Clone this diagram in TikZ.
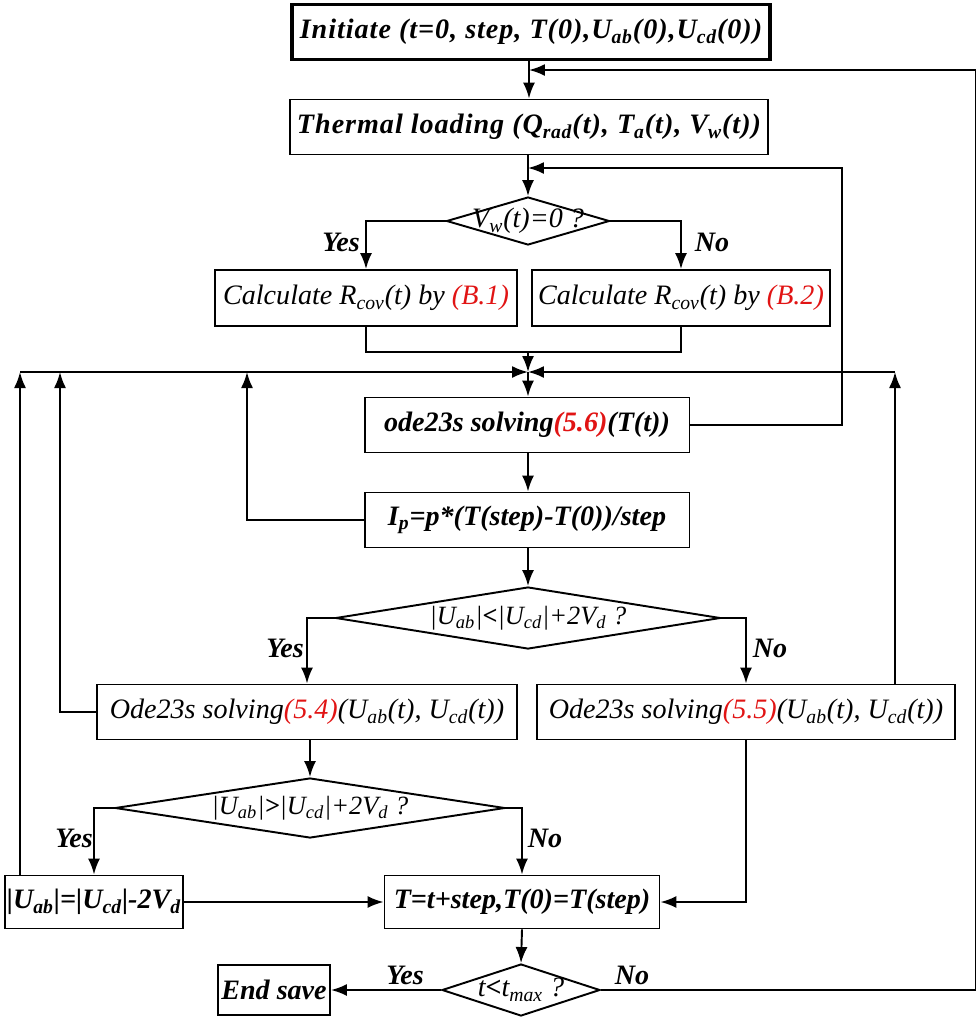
\documentclass[tikz,border=0pt]{standalone}
\usepackage{fontspec}
\setmainfont{Liberation Serif}
\usepackage{xcolor}
\usetikzlibrary{shapes.geometric, arrows.meta}

\definecolor{eqred}{RGB}{225,20,20}
\newcommand{\lo}[1]{\textsubscript{#1}}
\newcommand{\eqnum}[1]{\textcolor{eqred}{(#1)}}

\begin{document}
\begin{tikzpicture}[
    x=0.02cm, y=-0.02cm,
    every node/.style={font=\fontsize{16}{18}\selectfont\bfseries\itshape},
    light/.style={font=\fontsize{16}{18}\selectfont\itshape},
    cond/.style={font=\fontsize{15}{17}\selectfont\itshape},
    wide/.style={font=\fontsize{16}{18}\selectfont\bfseries\itshape\addfontfeature{LetterSpace=3.5}},
    box/.style={draw, line width=1.1pt, inner sep=0pt},
    test/.style={draw, diamond, line width=1.1pt, inner sep=0pt},
    arr/.style={line width=1.1pt, -{Latex[length=3.2mm,width=2.4mm]}},
    link/.style={line width=1.1pt}
]
\useasboundingbox (0,0) rectangle (976,1019);

% process boxes
\node[box, wide, line width=2pt, minimum width=9.56cm, minimum height=1.1cm] (init) at (531,32)
    {Initiate (t=0, step, T(0),U\lo{ab}(0),U\lo{cd}(0))};
\node[box, wide, minimum width=9.56cm, minimum height=1.1cm] (therm) at (529,127)
    {Thermal loading (Q\lo{rad}(t), T\lo{a}(t), V\lo{w}(t))};
\node[box, light, minimum width=6.04cm, minimum height=1.12cm] (calcA) at (366,298)
    {Calculate R\lo{cov}(t) by \eqnum{B.1}};
\node[box, light, minimum width=5.96cm, minimum height=1.12cm] (calcB) at (681,298)
    {Calculate R\lo{cov}(t) by \eqnum{B.2}};
\node[box, minimum width=6.5cm, minimum height=1.1cm] (ode) at (527,425)
    {ode23s solving\eqnum{5.6}(T(t))};
\node[box, minimum width=6.5cm, minimum height=1.1cm] (ip) at (527,520)
    {I\lo{p}=p*(T(step)-T(0))/step};
\node[box, light, minimum width=8.4cm, minimum height=1.1cm] (odeA) at (307,712)
    {Ode23s solving\eqnum{5.4}(U\lo{ab}(t), U\lo{cd}(t))};
\node[box, light, minimum width=8.38cm, minimum height=1.1cm] (odeB) at (746,712)
    {Ode23s solving\eqnum{5.5}(U\lo{ab}(t), U\lo{cd}(t))};
\node[box, minimum width=3.56cm, minimum height=1.06cm] (clip) at (94,902)
    {|U\lo{ab}|=|U\lo{cd}|-2V\lo{d}};
\node[box, minimum width=5.5cm, minimum height=1.06cm] (tnext) at (522,902)
    {T=t+step,T(0)=T(step)};
\node[box, minimum width=2.24cm, minimum height=1cm] (endS) at (274,990)
    {End save};

% decisions
\node[test, minimum width=3.26cm, minimum height=0.96cm,
    label={[light]center:V\lo{w}(t)=0 ?}] (dW) at (528,221) {};
\node[test, minimum width=7.7cm, minimum height=1.24cm,
    label={[cond]center:|U\lo{ab}|\textbf{<}|U\lo{cd}|+2V\lo{d} ?}] (dU) at (528,618) {};
\node[test, minimum width=7.8cm, minimum height=1.2cm,
    label={[cond]center:|U\lo{ab}|\textbf{>}|U\lo{cd}|+2V\lo{d} ?}] (dV) at (310,808) {};
\node[test, minimum width=3.16cm, minimum height=1.04cm,
    label={[light]center:t\textbf{<}t\lo{max} ?}] (dT) at (521,990) {};

% branch labels
\node (yW) at (341,242) {Yes};
\node (nW) at (712,242) {No};
\node (yU) at (285,648) {Yes};
\node (nU) at (770,648) {No};
\node (yV) at (74,838) {Yes};
\node (nV) at (545,838) {No};
\node (yT) at (405,975) {Yes};
\node (nT) at (632,975) {No};

% helper points
\coordinate (rtop) at (976,70);
\coordinate (rbot) at (976,990);
\coordinate (fb) at (842,168);
\coordinate (mrg) at (528,352);
\coordinate (bus) at (528,372);
\coordinate (busL) at (20,372);
\coordinate (busA) at (60,372);
\coordinate (busB) at (247,372);
\coordinate (busR) at (895,372);

% main flow
\draw[arr] (init.south -| therm.north) -- (therm.north);
\draw[arr] (therm.south -| dW.north) -- (dW.north);
\draw[arr] (dW.west) -| (calcA.north);
\draw[arr] (dW.east) -| (calcB.north);
\draw[link] (calcA.south) |- (mrg) -| (calcB.south);
\draw[arr] (mrg) -- (bus);
\draw[arr] (bus) -- (ode.north -| bus);
\draw[arr] (ode.south -| bus) -- (ip.north -| bus);
\draw[arr] (ip.south -| bus) -- (dU.north);
\draw[arr] (dU.west) -| (odeA.north);
\draw[arr] (dU.east) -| (odeB.north);
\draw[arr] (odeA.south -| dV.north) -- (dV.north);
\draw[arr] (dV.west) -| (clip.north);
\draw[arr] (dV.east) -| (tnext.north);
\draw[arr] (clip.east) -- (tnext.west);
\draw[arr] (odeB.south) |- (tnext.east);
\draw[arr] (tnext.south) -- (dT.north);
\draw[arr] (dT.west) -- (endS.east);

% feedback loops
\draw[arr] (dT.east) -- (rbot) -- (rtop) -- (rtop -| therm.north);
\draw[arr] (ode.east) -| (fb) -- (fb -| dW.north);
\draw[arr] (busL) -- (bus);
\draw[arr] (busR) -- (bus);
\draw[arr] (clip.north -| busL) -- (busL);
\draw[arr] (odeA.west) -| (busA);
\draw[arr] (ip.west) -| (busB);
\draw[arr] (odeB.north -| busR) -- (busR);
\end{tikzpicture}
\end{document}
